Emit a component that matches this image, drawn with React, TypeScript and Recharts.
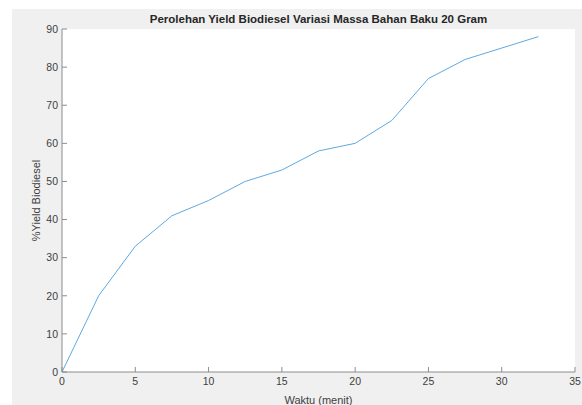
import { LineChart, Line, XAxis, YAxis, CartesianGrid } from 'recharts';

// waktu (menit) dan % yield
const waktu = [0, 2.5, 5, 7.5, 10, 12.5, 15, 17.5, 20, 22.5, 25, 27.5, 30, 32.5];
const yieldPersen = [0, 20, 33, 41, 45, 50, 53, 58, 60, 66, 77, 82, 85, 88];
const xTicks = [0, 5, 10, 15, 20, 25, 30, 35];
const yTicks = [0, 10, 20, 30, 40, 50, 60, 70, 80, 90];

const data = waktu.map((w, i) => ({ waktu: w, yield: yieldPersen[i] }));

const axisColor = '#8c8c8c';
const textColor = '#404040';
const font = 'Liberation Sans, Arial, sans-serif';

export default function App() {
    return (
        <div style={{ position: 'absolute', left: 12, top: 9, width: 570, height: 396, background: '#f0f0f0' }}>
            <div
                style={{
                    position: 'absolute',
                    left: 50,
                    width: 513,
                    top: 4,
                    textAlign: 'center',
                    fontFamily: font,
                    fontWeight: 'bold',
                    fontSize: 11.5,
                    color: '#262626',
                }}
            >
                Perolehan Yield Biodiesel Variasi Massa Bahan Baku 20 Gram
            </div>
            <LineChart
                width={570}
                height={396}
                data={data}
                margin={{ top: 20, right: 7, bottom: 0, left: 0 }}
                style={{ position: 'absolute', left: 0, top: 0 }}
            >
                <CartesianGrid fill="#ffffff" horizontal={false} vertical={false} />
                <XAxis
                    xAxisId="bottom"
                    dataKey="waktu"
                    type="number"
                    domain={[0, 35]}
                    ticks={xTicks}
                    height={33}
                    tickSize={-5}
                    tickMargin={11}
                    stroke={axisColor}
                    tick={{ fill: textColor, fontSize: 10.5, fontFamily: font }}
                    label={{ value: 'Waktu (menit)', position: 'insideBottom', offset: 1, fill: textColor, fontSize: 11, fontFamily: font }}
                />
                <XAxis
                    xAxisId="top"
                    orientation="top"
                    dataKey="waktu"
                    type="number"
                    domain={[0, 35]}
                    ticks={xTicks}
                    height={0}
                    tickSize={-5}
                    tick={false}
                    stroke={axisColor}
                />
                <YAxis
                    yAxisId="left"
                    type="number"
                    domain={[0, 90]}
                    ticks={yTicks}
                    width={50}
                    tickSize={-5}
                    tickMargin={9}
                    stroke={axisColor}
                    tick={{ fill: textColor, fontSize: 10.5, fontFamily: font }}
                    label={{ value: '%Yield Biodiesel', angle: -90, position: 'insideLeft', offset: 24, fill: textColor, fontSize: 11, fontFamily: font, style: { textAnchor: 'middle' } }}
                />
                <YAxis
                    yAxisId="right"
                    orientation="right"
                    type="number"
                    domain={[0, 90]}
                    ticks={yTicks}
                    width={0}
                    tickSize={-5}
                    tick={false}
                    stroke={axisColor}
                />
                <Line
                    xAxisId="bottom"
                    yAxisId="left"
                    dataKey="yield"
                    stroke="#5ea9e2"
                    strokeWidth={1}
                    dot={false}
                    isAnimationActive={false}
                />
            </LineChart>
        </div>
    );
}
